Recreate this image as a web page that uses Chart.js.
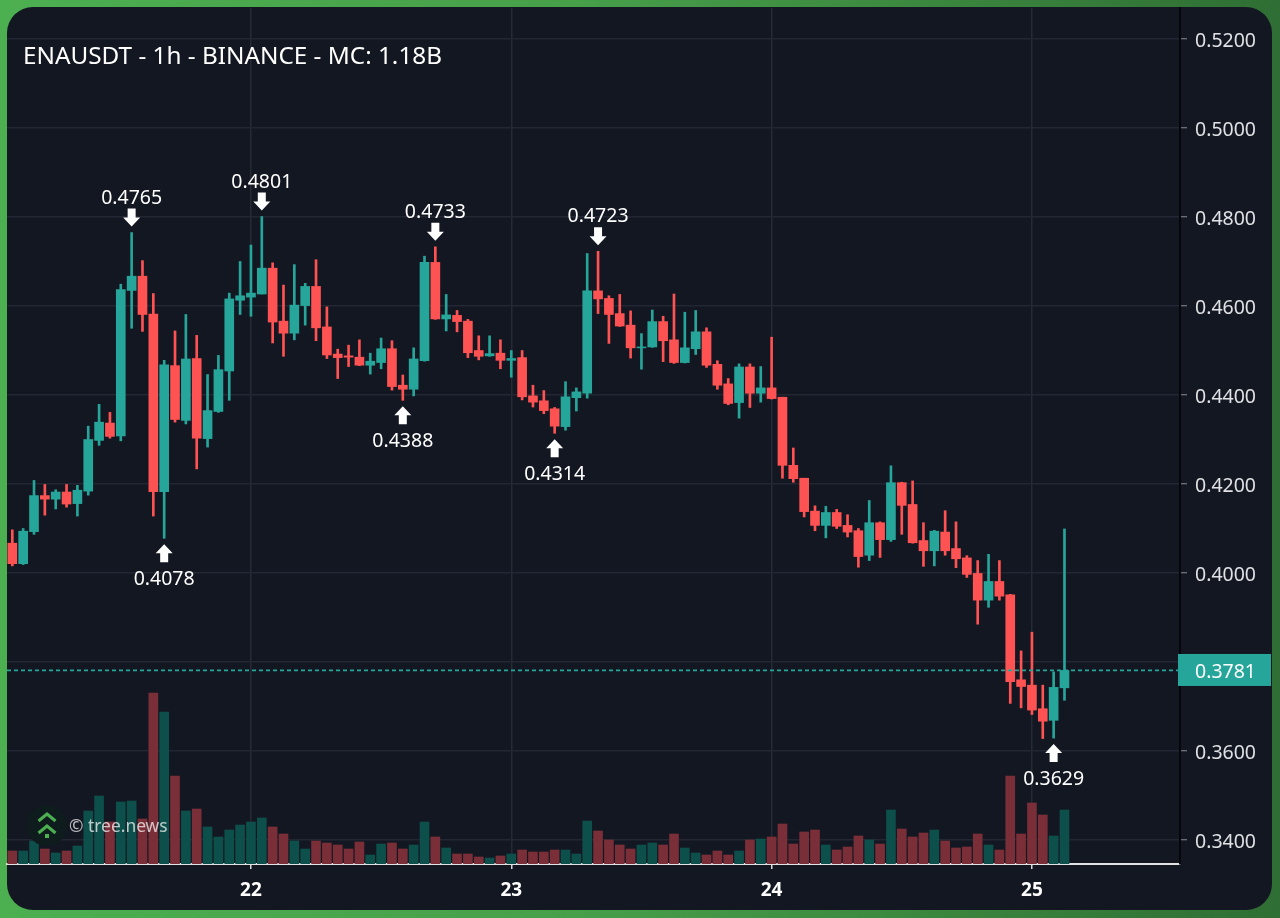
<!DOCTYPE html>
<html>
<head>
<meta charset="utf-8">
<title>ENAUSDT</title>
<script src="https://cdn.jsdelivr.net/npm/chart.js@4/dist/chart.umd.min.js"></script>
<style>
   html, body { margin: 0; padding: 0; width: 1280px; height: 918px; overflow: hidden; }
   body { background: linear-gradient(90deg, #4caf50 0%, #479f4a 45%, #2f6e34 100%); position: relative; }
   #card { position: absolute; left: 7px; top: 7px; width: 1265px; height: 903px; border-radius: 26px; background: #131722; }
   #myChart { position: absolute; left: 0; top: 0; }
</style>
</head>
<body>
<div id="card"></div>
<canvas id="myChart" width="1280" height="918"></canvas>
<script>
const titleText = "ENAUSDT - 1h - BINANCE - MC: 1.18B";
const watermark = "© tree.news";

const opens = [0.4067,0.4021,0.4093,0.4174,0.4166,0.4182,0.4156,0.4184,0.4298,0.4337,
   0.4308,0.4635,0.4667,0.4582,0.4183,0.4466,0.4343,0.4482,0.4302,0.4363,
   0.4454,0.4613,0.4620,0.4627,0.4685,0.4566,0.4539,0.4601,0.4644,0.4553,
   0.4492,0.4488,0.4485,0.4467,0.4473,0.4504,0.4422,0.4413,0.4477,0.4698,
   0.4571,0.4579,0.4566,0.4500,0.4488,0.4494,0.4478,0.4484,0.4398,0.4387,
   0.4369,0.4329,0.4394,0.4404,0.4634,0.4617,0.4583,0.4557,0.4506,0.4508,
   0.4565,0.4524,0.4473,0.4504,0.4542,0.4469,0.4425,0.4383,0.4463,0.4404,
   0.4416,0.4395,0.4242,0.4213,0.4139,0.4107,0.4136,0.4107,0.4095,0.4040,
   0.4113,0.4075,0.4203,0.4154,0.4073,0.4050,0.4092,0.4055,0.4034,0.3999,
   0.3939,0.3981,0.3951,0.3760,0.3748,0.3695,0.3669,0.3742];
const highs = [0.4097,0.4100,0.4208,0.4199,0.4187,0.4199,0.4197,0.4330,0.4379,0.4361,
   0.4649,0.4765,0.4702,0.4628,0.4478,0.4544,0.4581,0.4534,0.4446,0.4489,
   0.4629,0.4700,0.4737,0.4801,0.4697,0.4647,0.4693,0.4651,0.4704,0.4598,
   0.4503,0.4512,0.4524,0.4494,0.4528,0.4522,0.4445,0.4506,0.4712,0.4733,
   0.4626,0.4590,0.4570,0.4533,0.4533,0.4524,0.4500,0.4500,0.4422,0.4410,
   0.4372,0.4430,0.4416,0.4718,0.4723,0.4623,0.4626,0.4589,0.4538,0.4591,
   0.4577,0.4627,0.4586,0.4590,0.4551,0.4477,0.4437,0.4470,0.4470,0.4464,
   0.4530,0.4395,0.4281,0.4213,0.4151,0.4150,0.4143,0.4131,0.4100,0.4163,
   0.4115,0.4241,0.4204,0.4207,0.4113,0.4096,0.4140,0.4115,0.4039,0.4028,
   0.4042,0.4028,0.3952,0.3825,0.3867,0.3748,0.3778,0.4099];
const lows = [0.4016,0.4019,0.4087,0.4130,0.4144,0.4148,0.4128,0.4175,0.4287,0.4303,
   0.4297,0.4550,0.4543,0.4128,0.4078,0.4339,0.4335,0.4234,0.4283,0.4361,
   0.4388,0.4581,0.4577,0.4627,0.4517,0.4487,0.4524,0.4557,0.4522,0.4482,
   0.4437,0.4464,0.4466,0.4447,0.4459,0.4411,0.4388,0.4398,0.4476,0.4570,
   0.4544,0.4542,0.4484,0.4479,0.4487,0.4459,0.4440,0.4389,0.4373,0.4358,
   0.4314,0.4321,0.4364,0.4393,0.4583,0.4516,0.4554,0.4483,0.4458,0.4507,
   0.4475,0.4471,0.4472,0.4491,0.4462,0.4413,0.4378,0.4348,0.4372,0.4384,
   0.4391,0.4213,0.4204,0.4126,0.4095,0.4079,0.4100,0.4081,0.4013,0.4028,
   0.4035,0.4071,0.4087,0.4067,0.4015,0.4016,0.4040,0.4012,0.3990,0.3885,
   0.3923,0.3939,0.3707,0.3697,0.3682,0.3628,0.3629,0.3714];
const closes = [0.4021,0.4094,0.4174,0.4166,0.4182,0.4155,0.4186,0.4300,0.4339,0.4307,
   0.4637,0.4667,0.4581,0.4183,0.4468,0.4345,0.4481,0.4303,0.4365,0.4457,
   0.4616,0.4623,0.4629,0.4685,0.4564,0.4539,0.4602,0.4644,0.4551,0.4490,
   0.4484,0.4485,0.4467,0.4476,0.4504,0.4419,0.4413,0.4481,0.4698,0.4571,
   0.4580,0.4565,0.4495,0.4487,0.4493,0.4478,0.4482,0.4396,0.4384,0.4365,
   0.4330,0.4396,0.4407,0.4634,0.4616,0.4581,0.4555,0.4506,0.4508,0.4565,
   0.4522,0.4473,0.4506,0.4542,0.4467,0.4422,0.4381,0.4463,0.4404,0.4416,
   0.4392,0.4242,0.4212,0.4138,0.4107,0.4136,0.4105,0.4092,0.4037,0.4113,
   0.4075,0.4203,0.4152,0.4068,0.4050,0.4094,0.4050,0.4032,0.3997,0.3939,
   0.3981,0.3948,0.3756,0.3745,0.3692,0.3667,0.3743,0.3781];
const volumes = [13,13,23,15,11,13,18,53,68,42,62,63,45,171,152,88,53,55,37,27,
   34,39,42,46,37,30,23,15,23,21,19,15,22,9,20,21,15,19,42,27,
   16,10,10,7,6,8,10,14,12,12,14,14,10,43,33,24,19,15,19,21,
   19,30,16,11,9,13,9,13,24,25,27,40,20,32,34,19,14,17,28,24,
   20,54,35,27,31,34,23,16,17,30,19,14,88,30,61,49,28,54];

const priceTicks = [0.34,0.36,0.38,0.40,0.42,0.44,0.46,0.48,0.50,0.52];
const dayTicks = [22,46,70,94];
const dayLabels = ["22","23","24","25"];
const lastPrice = 0.3781;

// 화살표와 가격 표시
const markHighIdx = [11,23,39,54];
const markLowIdx = [14,36,50,96];

const UP = "#26a69a", DOWN = "#ff5252", UP_VOL = "#0d4f4a", DOWN_VOL = "#7a2e37";
const FONT = '"Noto Sans", sans-serif';
const X_MIN = -0.49, X_MAX = 107.65;

const isUp = closes.map((c, i) => c >= opens[i]);

function arrow(ctx, x, tipY, dir) {
   // dir: 1 = 아래를 가리킴, -1 = 위를 가리킴
   ctx.beginPath();
   ctx.moveTo(x, tipY);
   ctx.lineTo(x - 8.5, tipY - dir * 9);
   ctx.lineTo(x - 4, tipY - dir * 9);
   ctx.lineTo(x - 4, tipY - dir * 18);
   ctx.lineTo(x + 4, tipY - dir * 18);
   ctx.lineTo(x + 4, tipY - dir * 9);
   ctx.lineTo(x + 8.5, tipY - dir * 9);
   ctx.closePath();
   ctx.fill();
}

const overlay = {
   id: "overlay",
   afterUpdate(chart) {
      // Noto Sans 숫자가 눈금선보다 위로 뜨므로 조금 내림
      chart.scales.y.getLabelItems().forEach(item => { item.options.translation[1] += 2; });
   },
   afterDatasetsDraw(chart) {
      const ctx = chart.ctx, xs = chart.scales.x, ys = chart.scales.y;
      ctx.save();
      ctx.textBaseline = "middle";

      // 고점, 저점 표시
      ctx.fillStyle = "#ffffff";
      ctx.textAlign = "center";
      ctx.font = `19.5px ${FONT}`;
      markHighIdx.forEach(i => {
         const x = xs.getPixelForValue(i), y = ys.getPixelForValue(highs[i]);
         arrow(ctx, x, y - 6, 1);
         ctx.fillText(highs[i].toFixed(4), x, y - 34.5);
      });
      markLowIdx.forEach(i => {
         const x = xs.getPixelForValue(i), y = ys.getPixelForValue(lows[i]);
         arrow(ctx, x, y + 6, -1);
         ctx.fillText(lows[i].toFixed(4), x, y + 41.5);
      });

      // 제목
      ctx.textAlign = "left";
      ctx.font = `24.3px ${FONT}`;
      ctx.fillText(titleText, 23, 57);

      // 워터마크
      ctx.fillStyle = "#0f1c1e";
      ctx.beginPath();
      ctx.arc(47, 825.5, 20.5, 0, Math.PI * 2);
      ctx.fill();
      ctx.strokeStyle = "#4caf50";
      ctx.lineWidth = 3;
      [817, 829].forEach(y => {
         ctx.beginPath();
         ctx.moveTo(38.5, y + 4);
         ctx.lineTo(47, y - 3);
         ctx.lineTo(55.5, y + 4);
         ctx.stroke();
      });
      ctx.fillStyle = "#4caf50";
      ctx.fillRect(45, 834, 4, 4);
      ctx.fillStyle = "rgba(255,255,255,0.72)";
      ctx.font = `17.4px ${FONT}`;
      ctx.fillText(watermark, 69, 827);

      // 현재가 태그
      const py = ys.getPixelForValue(lastPrice);
      ctx.fillStyle = UP;
      ctx.fillRect(1178, py - 16.5, 93, 32);
      ctx.fillStyle = "#ffffff";
      ctx.font = `19.5px ${FONT}`;
      ctx.fillText(lastPrice.toFixed(4), 1195, py + 1.5);
      ctx.restore();
   }
};

new Chart(document.getElementById("myChart").getContext("2d"), {
   type: "bar",
   data: {
      datasets: [
         {
            type: "line",
            data: [{x: X_MIN, y: lastPrice}, {x: X_MAX, y: lastPrice}],
            borderColor: UP,
            borderWidth: 1.8,
            borderDash: [4, 3],
            pointRadius: 0,
            order: 0
         },
         {
            data: opens.map((o, i) => ({x: i, y: [o, closes[i]]})),
            backgroundColor: isUp.map(u => u ? UP : DOWN),
            barThickness: 9,
            grouped: false,
            order: 1
         },
         {
            data: lows.map((l, i) => ({x: i, y: [l, highs[i]]})),
            backgroundColor: isUp.map(u => u ? UP : DOWN),
            barThickness: 2,
            grouped: false,
            order: 2
         },
         {
            data: volumes.map((v, i) => ({x: i, y: v})),
            backgroundColor: isUp.map(u => u ? UP_VOL : DOWN_VOL),
            barThickness: 9,
            grouped: false,
            yAxisID: "vol",
            order: 3
         }
      ]
   },
   options: {
      responsive: false,
      animation: false,
      layout: {padding: {left: 7, top: 8, right: 8, bottom: 8}},
      plugins: {legend: {display: false}, tooltip: {enabled: false}, title: {display: false}},
      scales: {
         x: {
            type: "linear",
            offset: false,
            min: X_MIN,
            max: X_MAX,
            afterBuildTicks: axis => { axis.ticks = dayTicks.map(v => ({value: v})); },
            afterFit: axis => { axis.height = 46; axis.paddingLeft = 0; axis.paddingRight = 0; },
            ticks: {
               autoSkip: false,
               maxRotation: 0,
               padding: 10,
               color: "#ffffff",
               font: {family: FONT, size: 19, weight: "bold"},
               callback: value => dayLabels[dayTicks.indexOf(value)]
            },
            grid: {offset: false, color: "#262a35", lineWidth: 1.5, tickColor: "#d8d8d8", tickLength: 5, tickWidth: 1.5},
            border: {color: "#e2e2e2", width: 2}
         },
         y: {
            position: "right",
            min: 0.33461,
            max: 0.52697,
            afterBuildTicks: axis => { axis.ticks = priceTicks.map(v => ({value: v})); },
            afterFit: axis => { axis.width = 92; axis.paddingTop = 0; axis.paddingBottom = 0; },
            ticks: {
               autoSkip: false,
               padding: 8,
               color: "#dfe1e4",
               font: {family: FONT, size: 19.5},
               // 0.3800은 현재가 태그에 가려짐
               callback: value => Math.abs(value - lastPrice) < 0.004 ? "" : value.toFixed(4)
            },
            grid: {color: "#232733", lineWidth: 1.5, tickColor: "#8a8d94", tickLength: 7, tickWidth: 1},
            border: {color: "#05070a", width: 2}
         },
         vol: {
            display: false,
            min: 0,
            max: 856
         }
      }
   },
   plugins: [overlay]
});
</script>
</body>
</html>
